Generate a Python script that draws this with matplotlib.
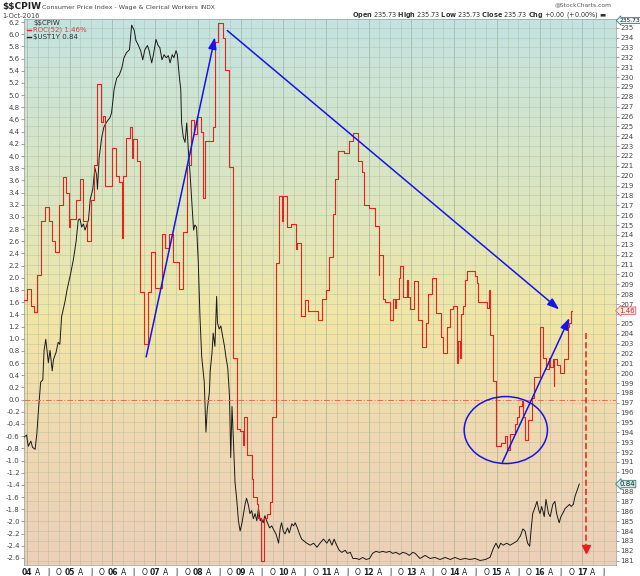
import numpy as np
import matplotlib.pyplot as plt
from matplotlib.patches import Ellipse
from matplotlib.lines import Line2D
from matplotlib.colors import LinearSegmentedColormap

# ROC(52) of $$CPIW, weekly step line (decimal year, %)
roc_dates = [
    2003.93, 2004.00, 2004.09, 2004.16, 2004.23, 2004.32, 2004.42, 2004.52, 2004.58, 2004.65,
    2004.75, 2004.84, 2004.91, 2004.98, 2005.01, 2005.15, 2005.23, 2005.32, 2005.40, 2005.49,
    2005.57, 2005.65, 2005.73, 2005.77, 2005.83, 2005.98, 2006.08, 2006.16, 2006.22, 2006.24,
    2006.32, 2006.40, 2006.46, 2006.49, 2006.57, 2006.65, 2006.74, 2006.83, 2006.90, 2006.99,
    2007.15, 2007.24, 2007.33, 2007.43, 2007.57, 2007.66, 2007.74, 2007.83, 2007.91, 2007.97,
    2008.07, 2008.13, 2008.17, 2008.36, 2008.40, 2008.48, 2008.58, 2008.64, 2008.74, 2008.83,
    2008.91, 2008.99, 2009.05, 2009.08, 2009.16, 2009.26, 2009.30, 2009.38, 2009.42, 2009.47,
    2009.48, 2009.56, 2009.61, 2009.68, 2009.73, 2009.83, 2009.91, 2009.98, 2010.00, 2010.09,
    2010.18, 2010.30, 2010.33, 2010.41, 2010.51, 2010.57, 2010.81, 2010.90, 2011.00, 2011.06,
    2011.16, 2011.21, 2011.29, 2011.43, 2011.53, 2011.64, 2011.74, 2011.84, 2011.90, 2012.00,
    2012.15, 2012.23, 2012.25, 2012.33, 2012.39, 2012.50, 2012.58, 2012.62, 2012.64, 2012.70,
    2012.74, 2012.81, 2012.89, 2012.93, 2012.97, 2013.06, 2013.16, 2013.24, 2013.34, 2013.40,
    2013.48, 2013.58, 2013.69, 2013.73, 2013.83, 2013.91, 2013.97, 2014.06, 2014.09, 2014.13,
    2014.16, 2014.20, 2014.26, 2014.31, 2014.49, 2014.53, 2014.57, 2014.78, 2014.81, 2014.84,
    2014.91, 2014.98, 2015.09, 2015.20, 2015.24, 2015.31, 2015.43, 2015.48, 2015.53, 2015.58,
    2015.62, 2015.66, 2015.74, 2015.83, 2015.87, 2016.00, 2016.09, 2016.15, 2016.21, 2016.25,
    2016.31, 2016.33, 2016.35, 2016.40, 2016.47, 2016.58, 2016.66, 2016.70, 2016.73, 2016.75]
roc_values = [
    1.64, 1.81, 1.53, 1.44, 2.04, 2.94, 3.17, 2.94, 2.60, 2.43,
    3.20, 3.65, 3.40, 2.83, 2.97, 3.28, 3.62, 2.94, 2.60, 3.28,
    3.85, 5.18, 4.56, 4.66, 3.51, 4.13, 3.68, 3.57, 2.66, 3.68,
    4.30, 4.47, 3.96, 4.28, 3.91, 1.76, 0.91, 1.76, 2.43, 1.84,
    2.72, 2.49, 2.72, 2.26, 1.81, 2.75, 3.85, 4.59, 4.36, 4.64,
    4.39, 3.31, 4.25, 4.48, 5.88, 6.19, 5.94, 5.42, 3.82, 0.68,
    -0.49, -0.51, -0.74, -0.29, -0.91, -1.31, -1.60, -1.71, -1.94, -2.00,
    -2.65, -1.94, -1.88, -1.68, -0.29, 2.25, 3.34, 2.94, 3.34, 2.83,
    2.88, 2.48, 2.57, 1.37, 1.63, 1.46, 1.31, 1.66, 1.80, 2.34,
    3.05, 3.62, 4.08, 4.05, 4.25, 4.37, 3.91, 3.74, 3.20, 3.14,
    2.85, 2.05, 2.37, 1.66, 1.60, 1.31, 1.66, 1.51, 1.66, 2.00,
    2.20, 1.68, 1.97, 1.68, 1.48, 1.94, 1.31, 0.86, 1.26, 1.74,
    2.00, 1.43, 1.03, 0.77, 1.20, 1.48, 1.54, 0.60, 0.97, 0.69,
    1.40, 1.54, 1.97, 2.11, 2.03, 1.91, 1.60, 1.51, 1.80, 1.06,
    0.31, -0.77, -0.71, -0.60, -0.83, -0.57, -0.40, -0.29, -0.11, -0.03,
    -0.29, -0.66, -0.34, 0.03, 0.37, 1.20, 0.68, 0.51, 0.68, 0.54,
    0.66, 0.23, 0.66, 0.57, 0.43, 0.66, 1.20, 1.26, 1.46, 1.46]

# $UST1Y, 1-year treasury yield (own hidden scale)
ust_dates = [
    2003.93, 2003.99, 2004.03, 2004.09, 2004.13, 2004.19, 2004.23, 2004.27, 2004.32, 2004.37,
    2004.40, 2004.44, 2004.50, 2004.54, 2004.59, 2004.62, 2004.68, 2004.73, 2004.77, 2004.81,
    2004.89, 2004.94, 2005.02, 2005.09, 2005.15, 2005.20, 2005.24, 2005.28, 2005.32, 2005.36,
    2005.40, 2005.44, 2005.48, 2005.54, 2005.59, 2005.63, 2005.65, 2005.69, 2005.75, 2005.80,
    2005.85, 2005.90, 2005.94, 2005.98, 2006.04, 2006.10, 2006.16, 2006.22, 2006.27, 2006.33,
    2006.40, 2006.45, 2006.51, 2006.55, 2006.61, 2006.66, 2006.71, 2006.76, 2006.82, 2006.86,
    2006.92, 2006.96, 2007.02, 2007.07, 2007.11, 2007.16, 2007.21, 2007.26, 2007.31, 2007.35,
    2007.40, 2007.44, 2007.49, 2007.52, 2007.57, 2007.60, 2007.62, 2007.66, 2007.70, 2007.74,
    2007.78, 2007.82, 2007.86, 2007.90, 2007.93, 2007.97, 2008.01, 2008.05, 2008.09, 2008.15,
    2008.19, 2008.22, 2008.27, 2008.29, 2008.33, 2008.36, 2008.40, 2008.44, 2008.46, 2008.50,
    2008.54, 2008.58, 2008.62, 2008.66, 2008.70, 2008.74, 2008.77, 2008.80, 2008.83, 2008.87,
    2008.91, 2008.95, 2008.99, 2009.03, 2009.07, 2009.11, 2009.14, 2009.18, 2009.22, 2009.26,
    2009.30, 2009.34, 2009.38, 2009.42, 2009.46, 2009.49, 2009.53, 2009.57, 2009.61, 2009.68,
    2009.73, 2009.79, 2009.83, 2009.89, 2009.93, 2009.96, 2010.00, 2010.04, 2010.10, 2010.14,
    2010.20, 2010.24, 2010.28, 2010.33, 2010.38, 2010.43, 2010.49, 2010.55, 2010.63, 2010.71,
    2010.79, 2010.86, 2010.94, 2011.02, 2011.08, 2011.14, 2011.19, 2011.25, 2011.31, 2011.37,
    2011.45, 2011.50, 2011.57, 2011.63, 2011.71, 2011.78, 2011.86, 2011.94, 2012.02, 2012.09,
    2012.17, 2012.25, 2012.33, 2012.41, 2012.49, 2012.56, 2012.64, 2012.72, 2012.80, 2012.88,
    2012.95, 2013.03, 2013.09, 2013.20, 2013.32, 2013.44, 2013.55, 2013.67, 2013.79, 2013.91,
    2014.02, 2014.14, 2014.26, 2014.37, 2014.49, 2014.61, 2014.73, 2014.84, 2014.92, 2014.98,
    2015.04, 2015.09, 2015.15, 2015.23, 2015.31, 2015.39, 2015.47, 2015.55, 2015.61, 2015.66,
    2015.72, 2015.77, 2015.80, 2015.84, 2015.90, 2015.94, 2015.98, 2016.01, 2016.05, 2016.11,
    2016.15, 2016.21, 2016.25, 2016.31, 2016.36, 2016.40, 2016.46, 2016.50, 2016.54, 2016.60,
    2016.65, 2016.70, 2016.74, 2016.79, 2016.83, 2016.89, 2016.93]
ust_values = [
    1.30, 1.32, 1.21, 1.26, 1.20, 1.18, 1.33, 1.57, 1.84, 1.86,
    2.15, 2.26, 2.03, 2.15, 1.95, 2.06, 2.13, 2.23, 2.21, 2.48,
    2.63, 2.75, 2.90, 3.05, 3.22, 3.43, 3.44, 3.36, 3.39, 3.33,
    3.38, 3.43, 3.63, 3.73, 3.94, 3.87, 3.73, 4.04, 4.24, 4.34,
    4.38, 4.41, 4.43, 4.48, 4.71, 4.82, 4.85, 4.92, 5.02, 5.07,
    5.10, 5.34, 5.29, 5.19, 5.14, 5.09, 5.00, 5.10, 5.14, 5.09,
    4.97, 5.05, 5.20, 5.14, 5.12, 5.00, 5.05, 5.02, 5.04, 4.97,
    5.05, 5.02, 5.09, 5.05, 4.82, 4.71, 4.38, 4.24, 4.19, 4.38,
    4.10, 3.87, 3.60, 3.33, 3.38, 3.36, 3.02, 2.48, 2.09, 1.84,
    1.35, 1.57, 1.74, 1.95, 2.12, 2.32, 2.19, 2.68, 2.42, 2.36,
    2.39, 2.29, 2.20, 2.08, 1.98, 1.71, 1.10, 1.60, 1.30, 0.86,
    0.69, 0.48, 0.38, 0.45, 0.55, 0.65, 0.70, 0.64, 0.55, 0.58,
    0.50, 0.55, 0.48, 0.60, 0.48, 0.50, 0.46, 0.53, 0.48, 0.41,
    0.43, 0.38, 0.35, 0.26, 0.41, 0.46, 0.38, 0.35, 0.41, 0.36,
    0.45, 0.43, 0.46, 0.41, 0.35, 0.30, 0.28, 0.26, 0.24, 0.26,
    0.22, 0.26, 0.30, 0.26, 0.30, 0.24, 0.30, 0.24, 0.19, 0.17,
    0.19, 0.16, 0.17, 0.11, 0.11, 0.10, 0.12, 0.10, 0.11, 0.16,
    0.18, 0.17, 0.18, 0.17, 0.18, 0.16, 0.17, 0.15, 0.17, 0.16,
    0.14, 0.17, 0.16, 0.11, 0.14, 0.11, 0.12, 0.10, 0.12, 0.10,
    0.12, 0.10, 0.11, 0.10, 0.11, 0.09, 0.10, 0.12, 0.21, 0.26,
    0.21, 0.26, 0.24, 0.26, 0.24, 0.26, 0.28, 0.33, 0.40, 0.38,
    0.26, 0.23, 0.38, 0.55, 0.62, 0.67, 0.59, 0.55, 0.62, 0.52,
    0.69, 0.55, 0.52, 0.64, 0.67, 0.55, 0.46, 0.52, 0.55, 0.60,
    0.62, 0.64, 0.62, 0.64, 0.72, 0.79, 0.84]

left_ticks = np.round(np.arange(-2.6, 6.21, 0.2), 1)
right_ticks = list(range(181, 236))
right_hidden = [189, 206]          # covered by the last-value tags
year_labels = ['04', '05', '06', '07', '08', '09', '10', '11', '12', '13', '14', '15', '16', '17']
quarter_letters = ['A', 'J', 'O']

# hand drawn annotations (data coords of the ROC scale)
blue_arrows = [((2006.79, 0.70), (2008.40, 5.95)),
               ((2008.69, 6.06), (2016.46, 1.48)),
               ((2015.13, -1.03), (2016.70, 1.34))]
circle_center, circle_w, circle_h = (2015.21, -0.50), 1.95, 1.10
red_arrow_x, red_arrow_top, red_arrow_tip = 2017.08, 1.10, -2.45

W, H = 640, 576
XMIN, XMAX = 2003.93, 2017.79
LMIN, LMAX = -2.716, 6.25
RMIN, RMAX = 180.56, 235.88
UMIN, UMAX = 0.046, 5.40
BLUE = '#1515e8'
RED = '#e3241c'


def fx(px):
    return px / W


def fy(py):
    return 1 - py / H


fig = plt.figure(figsize=(W / 100, H / 100), dpi=100)
fig.patch.set_facecolor('white')
axr = fig.add_axes([fx(24), fy(565), 592 / W, 546 / H])
axu = axr.twinx()
ax = axr.twinx()
axr.yaxis.tick_right()
ax.yaxis.tick_left()

# background gradient
cmap = LinearSegmentedColormap.from_list(
    'bg', [(0, '#c3e3e1'), (0.33, '#dce6bf'), (0.55, '#f2e6a6'),
           (0.78, '#efd8b2'), (1, '#ecd0b8')])
grad = np.linspace(1, 0, 256).reshape(-1, 1)
axr.imshow(grad, cmap=cmap, aspect='auto', origin='lower',
           extent=(XMIN, XMAX, RMIN, RMAX), zorder=0, interpolation='bilinear')

# grid
quarters = np.arange(2004, 2017.51, 0.25)
for q in quarters:
    is_year = abs(q - round(q)) < 1e-6
    axr.axvline(q, color='#8f9f88' if is_year else '#a9b5a0',
                alpha=0.6 if is_year else 0.45, lw=0.6, zorder=1)
for t in right_ticks:
    axr.axhline(t, color='#a9b5a0', alpha=0.45, lw=0.6, zorder=1)

axr.set_xlim(XMIN, XMAX)
axr.set_ylim(RMIN, RMAX)
ax.set_ylim(LMIN, LMAX)
axu.set_ylim(UMIN, UMAX)

# x axis labels
xlabels = []
for q in quarters:
    frac = round((q - int(q)) * 4)
    xlabels.append(year_labels[int(q) - 2004] if frac == 0 else quarter_letters[frac - 1])
axr.set_xticks(quarters)
axr.set_xticklabels(xlabels)
for lab, q in zip(axr.get_xticklabels(), quarters):
    if abs(q - round(q)) < 1e-6:
        lab.set_fontweight('bold')
axr.tick_params(axis='x', length=0, labelsize=5.5, pad=2, labelcolor='#222222')

axr.set_yticks(right_ticks)
axr.set_yticklabels(['' if t in right_hidden else str(t) for t in right_ticks])
axr.tick_params(axis='y', length=2, width=0.5, labelsize=5, pad=1,
                color='#777777', labelcolor='#444444')

ax.set_yticks(left_ticks)
ax.set_yticklabels([f'{v:.1f}' for v in left_ticks])
ax.tick_params(axis='y', length=2, width=0.5, labelsize=5, pad=1,
               color='#777777', labelcolor='#444444')

axu.set_axis_off()
for s in ax.spines.values():
    s.set_visible(False)
for s in axr.spines.values():
    s.set_color('#a8a8a8')
    s.set_linewidth(0.6)

# series
axu.plot(ust_dates, ust_values, color='#1a1a1a', lw=0.7, zorder=4)
ax.plot(roc_dates, roc_values, drawstyle='steps-post', color=RED, lw=0.8, zorder=5)
ax.axhline(0, color='#e8704f', lw=0.7, linestyle=(0, (6, 2, 1, 2)), zorder=3)

# annotations
for start, end in blue_arrows:
    ax.annotate('', xy=end, xytext=start,
                arrowprops=dict(arrowstyle='-|>,head_length=0.7,head_width=0.25',
                                color=BLUE, lw=1.1, shrinkA=0, shrinkB=0), zorder=6)
ax.add_patch(Ellipse(circle_center, circle_w, circle_h, fill=False, ec=BLUE, lw=1.1, zorder=6))
ax.plot([red_arrow_x, red_arrow_x], [red_arrow_top, red_arrow_tip + 0.05],
        color='#ee1c1c', lw=1.1, linestyle=(0, (4, 2)), zorder=6)
ax.plot(red_arrow_x, red_arrow_tip, marker='v', ms=6, color='#ee1c1c', zorder=6)


def tag(axis, y, text, ec, fc, color, size=5):
    axis.annotate(text, xy=(1, y), xycoords=('axes fraction', 'data'),
                  xytext=(2.5, 0), textcoords='offset points', ha='left', va='center',
                  fontsize=size, color=color, annotation_clip=False, zorder=10,
                  bbox=dict(boxstyle='larrow,pad=0.1', fc=fc, ec=ec, lw=0.6))


tag(ax, roc_values[-1], '1.46', '#e06060', '#fbe9e0', '#c03030')
tag(axu, ust_values[-1], '0.84', '#3a7a7a', '#cfe9e6', '#222222')
tag(axr, 235.73, '235.73', '#3a7a7a', '#e4f2f0', '#222222', size=4.2)

# legend in the plot corner
fig.text(fx(33), fy(23.5), '$$CPIW', fontsize=5, color='#333333', va='center', parse_math=False)
fig.add_artist(Line2D([fx(27), fx(31)], [fy(30), fy(30)], color=RED, lw=1.0))
fig.text(fx(33), fy(30), 'ROC(52) 1.46%', fontsize=5, color='#e04040', va='center')
fig.add_artist(Line2D([fx(27), fx(31)], [fy(36.5), fy(36.5)], color='#222222', lw=1.0))
fig.text(fx(33), fy(36.5), '$UST1Y 0.84', fontsize=5, color='#333333', va='center',
         parse_math=False)

# header
fig.text(fx(2), fy(7), '$$CPIW', fontsize=6.5, fontweight='bold', color='#222222',
         va='center', parse_math=False)
fig.text(fx(42), fy(7.5), 'Consumer Price Index - Wage & Clerical Workers', fontsize=4.6,
         color='#444444', va='center')
fig.text(fx(200), fy(7.5), 'INDX', fontsize=4.2, color='#444444', va='center')
fig.text(fx(2), fy(16), '1-Oct-2016', fontsize=4.8, color='#444444', va='center')
fig.text(fx(607), fy(14.5),
         r'$\bf{Open}$ 235.73 $\bf{High}$ 235.73 $\bf{Low}$ 235.73 '
         r'$\bf{Close}$ 235.73 $\bf{Chg}$ +0.00 (+0.00%) ▬',
         fontsize=4.7, color='#333333', ha='right', va='center')
fig.text(fx(612), fy(5), '@StockCharts.com', fontsize=4.3, color='#555555', ha='right',
         va='center')

fig.savefig('out.png', dpi=100, facecolor='white')
